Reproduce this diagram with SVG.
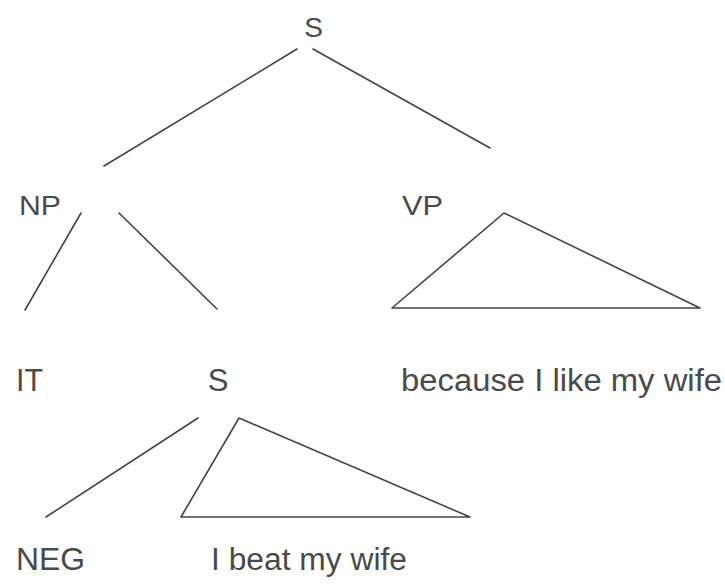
<svg xmlns="http://www.w3.org/2000/svg" width="725" height="585" viewBox="0 0 725 585">
<style>
text{font-family:"Liberation Sans",Arial,sans-serif;fill:#4a4a4a}
.top{font-size:28px}
.low{font-size:31px}
.e{stroke:#444;stroke-width:1.6;fill:none;stroke-linecap:round;stroke-linejoin:round}
</style>
<rect width="725" height="585" fill="#fff"/>
<g id="n-S"><text class="top" x="313.5" y="37" text-anchor="middle">S</text></g>
<g id="n-NP"><text class="top" x="19" y="215" textLength="42" lengthAdjust="spacingAndGlyphs">NP</text></g>
<g id="n-VP"><text class="top" x="402" y="215" textLength="41" lengthAdjust="spacingAndGlyphs">VP</text></g>
<g id="n-IT"><text class="low" x="16" y="391" textLength="27" lengthAdjust="spacingAndGlyphs">IT</text></g>
<g id="n-S2"><text class="low" x="218" y="391" text-anchor="middle">S</text></g>
<g id="n-because"><text class="low" x="401" y="391" textLength="321" lengthAdjust="spacingAndGlyphs">because I like my wife</text></g>
<g id="n-NEG"><text class="low" x="16" y="570" textLength="69" lengthAdjust="spacingAndGlyphs">NEG</text></g>
<g id="n-beat"><text class="low" x="211" y="570" textLength="196" lengthAdjust="spacingAndGlyphs">I beat my wife</text></g>
<g id="connectors">
<line class="e" x1="297" y1="49" x2="104" y2="166"/>
<line class="e" x1="313" y1="49" x2="490" y2="148"/>
<line class="e" x1="81" y1="213" x2="25" y2="310"/>
<line class="e" x1="119" y1="213" x2="217" y2="309"/>
<polygon class="e" points="504,213 392,308 700,308"/>
<line class="e" x1="198" y1="418" x2="46" y2="517"/>
<polygon class="e" points="239,418 181,517 470,517"/>
</g>
</svg>
